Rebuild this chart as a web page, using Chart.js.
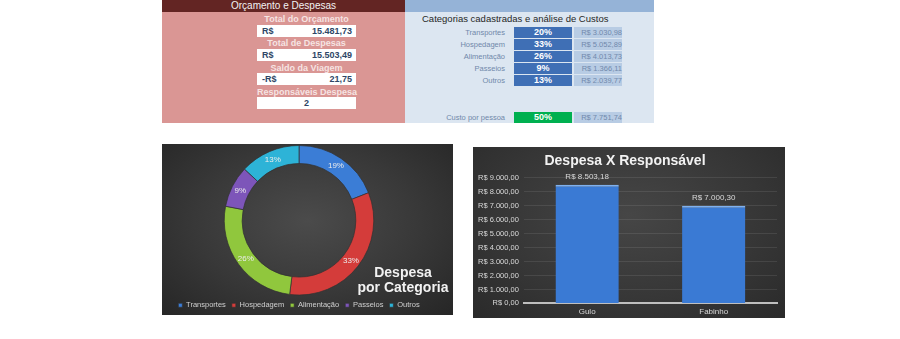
<!DOCTYPE html>
<html lang="pt-BR">
<head>
<meta charset="utf-8">
<title>Orçamento da Viagem</title>
<script src="https://cdn.jsdelivr.net/npm/chart.js@4.4.1/dist/chart.umd.min.js"></script>
<style>
  html, body { margin: 0; padding: 0; background: #fff; }
  body { width: 900px; height: 339px; position: relative; overflow: hidden; font-family: "Liberation Sans", Arial, sans-serif; }
  .painel { position: absolute; }

  #orcamento { left: 162px; top: 0; width: 243px; height: 123px; background: #da9694; }
  #orcamento .cab { height: 12px; background: #632523; color: #f2f2f2; font-size: 10px; line-height: 12px; text-align: center; }
  .rotulo { position: absolute; left: 95px; width: 99px; height: 12px; text-align: center; color: #f6e4e3; font-weight: bold; font-size: 9px; line-height: 12px; white-space: nowrap; }
  .valor { position: absolute; left: 95px; width: 99px; height: 12px; background: #fff; color: #2e4666; font-weight: bold; font-size: 9px; line-height: 12px; }
  .valor .moeda { position: absolute; left: 5px; }
  .valor .num { position: absolute; right: 4px; }
  .valor.centro { text-align: center; }

  #categorias { left: 405px; top: 0; width: 249px; height: 123px; background: #dce6f1; }
  #categorias .cab { height: 12px; background: #95b3d7; }
  #categorias .titulo { position: absolute; left: 17px; top: 12px; font-size: 9.5px; line-height: 13px; color: #262626; white-space: nowrap; }
  .linha { position: absolute; left: 0; width: 249px; height: 11px; font-size: 7.5px; line-height: 11px; }
  .linha .nome { position: absolute; left: 0; width: 100px; text-align: right; color: #7088aa; }
  .linha .perc { position: absolute; left: 109px; width: 58px; height: 11px; background: #3f6fb5; color: #fff; font-weight: bold; font-size: 9px; text-align: center; }
  .linha .perc.verde { background: #00b050; }
  .linha .custo { position: absolute; left: 169px; width: 48px; height: 11px; background: #b8cce4; color: #7189ac; text-align: right; }

  #pizza { left: 162px; top: 144px; width: 291px; height: 171px;
    background: radial-gradient(ellipse at 50% 45%, #4b4b4b 0%, #383838 55%, #262626 100%); }
  #barras { left: 473px; top: 147px; width: 312px; height: 171px;
    background: radial-gradient(ellipse at 50% 40%, #464646 0%, #363636 60%, #2a2a2a 100%); }
</style>
</head>
<body>

<div class="painel" id="orcamento">
  <div class="cab">Orçamento e Despesas</div>
  <div class="rotulo" style="top:13px">Total do Orçamento</div>
  <div class="valor" style="top:25px"><span class="moeda">R$</span><span class="num" id="vOrcamento"></span></div>
  <div class="rotulo" style="top:37px">Total de Despesas</div>
  <div class="valor" style="top:49px"><span class="moeda">R$</span><span class="num" id="vDespesas"></span></div>
  <div class="rotulo" style="top:62px">Saldo da Viagem</div>
  <div class="valor" style="top:73px"><span class="moeda" id="vSaldoMoeda">R$</span><span class="num" id="vSaldo"></span></div>
  <div class="rotulo" style="top:86px">Responsáveis Despesa</div>
  <div class="valor centro" style="top:97px" id="vResp"></div>
</div>

<div class="painel" id="categorias">
  <div class="cab"></div>
  <div class="titulo">Categorias cadastradas e análise de Custos</div>
</div>

<div class="painel" id="pizza"><canvas id="graficoPizza" width="291" height="171"></canvas></div>
<div class="painel" id="barras"><canvas id="graficoBarras" width="312" height="171"></canvas></div>

<script>
// dados da viagem
const categorias = ['Transportes', 'Hospedagem', 'Alimentação', 'Passeios', 'Outros'];
const custosCategoria = [3030.98, 5052.89, 4013.73, 1366.11, 2039.77];
const percTabela = [20, 33, 26, 9, 13];
const percGrafico = [19, 33, 26, 9, 13];
const coresCategoria = ['#3b7dd6', '#d43c3a', '#90c73d', '#7d55b9', '#2db3d7'];

const totalOrcamento = 15481.73;
const totalDespesas = 15503.49;
const saldoViagem = -21.75;
const custoPessoaPerc = 50;
const custoPessoa = 7751.74;

const responsaveis = ['Gulo', 'Fabinho'];
const despesaResponsavel = [8503.18, 7000.30];
const eixoMax = 9000;
const eixoPasso = 1000;

const fonte = '"Liberation Sans", Arial, sans-serif';

function fmt(v) {
    let partes = Math.abs(v).toFixed(2).split('.');
    return partes[0].replace(/\B(?=(\d{3})+(?!\d))/g, '.') + ',' + partes[1];
}

// tabela de resumo
document.getElementById('vOrcamento').textContent = fmt(totalOrcamento);
document.getElementById('vDespesas').textContent = fmt(totalDespesas);
document.getElementById('vSaldoMoeda').textContent = (saldoViagem < 0 ? '-' : '') + 'R$';
document.getElementById('vSaldo').textContent = fmt(saldoViagem);
document.getElementById('vResp').textContent = responsaveis.length;

// tabela de categorias
let painel = document.getElementById('categorias');
function addLinha(top, nome, perc, valor, verde) {
    let linha = document.createElement('div');
    linha.className = 'linha';
    linha.style.top = top + 'px';
    linha.innerHTML = '<span class="nome">' + nome + '</span>' +
        '<span class="perc' + (verde ? ' verde' : '') + '">' + perc + '%</span>' +
        '<span class="custo">R$ ' + fmt(valor) + '</span>';
    painel.appendChild(linha);
}
categorias.forEach(function (c, i) {
    addLinha(27 + i * 12, c, percTabela[i], custosCategoria[i], false);
});
addLinha(112, 'Custo por pessoa', custoPessoaPerc, custoPessoa, true);

// rótulos de porcentagem nas fatias
const rotulosPizza = {
    id: 'rotulosPizza',
    afterDatasetsDraw: function (chart) {
        let ctx = chart.ctx;
        let meta = chart.getDatasetMeta(0);
        ctx.save();
        ctx.font = '8px ' + fonte;
        ctx.fillStyle = '#ececec';
        ctx.textAlign = 'center';
        ctx.textBaseline = 'middle';
        meta.data.forEach(function (arc, i) {
            let p = arc.tooltipPosition();
            ctx.fillText(chart.data.datasets[0].data[i] + '%', p.x, p.y);
        });
        ctx.restore();
    }
};

// título em duas linhas no canto inferior direito
const tituloPizza = {
    id: 'tituloPizza',
    afterDraw: function (chart) {
        let ctx = chart.ctx;
        ctx.save();
        ctx.font = 'bold 14px ' + fonte;
        ctx.fillStyle = '#f2f2f2';
        ctx.textAlign = 'center';
        ctx.textBaseline = 'middle';
        ctx.fillText('Despesa', 241, 129);
        ctx.fillText('por Categoria', 241, 144);
        ctx.restore();
    }
};

new Chart(document.getElementById('graficoPizza'), {
    type: 'doughnut',
    data: {
        labels: categorias,
        datasets: [{
            data: percGrafico,
            backgroundColor: coresCategoria,
            borderColor: 'rgba(50, 50, 50, 0.7)',
            borderWidth: 1
        }]
    },
    options: {
        responsive: false,
        devicePixelRatio: 1,
        animation: false,
        cutout: '76%',
        layout: { padding: { top: 1, right: 17, bottom: -4 } },
        plugins: {
            legend: {
                position: 'bottom',
                labels: {
                    boxWidth: 4,
                    boxHeight: 4,
                    padding: 6,
                    color: '#cfcfcf',
                    font: { size: 7.5, family: fonte }
                }
            },
            tooltip: { enabled: false }
        }
    },
    plugins: [rotulosPizza, tituloPizza]
});

// valor acima de cada barra
const rotulosBarras = {
    id: 'rotulosBarras',
    afterDatasetsDraw: function (chart) {
        let ctx = chart.ctx;
        let meta = chart.getDatasetMeta(0);
        ctx.save();
        ctx.font = '8px ' + fonte;
        ctx.fillStyle = '#d9d9d9';
        ctx.textAlign = 'center';
        ctx.textBaseline = 'bottom';
        meta.data.forEach(function (bar, i) {
            ctx.fillText('R$ ' + fmt(chart.data.datasets[0].data[i]), bar.x, bar.y - 4);
        });
        ctx.restore();
    }
};

new Chart(document.getElementById('graficoBarras'), {
    type: 'bar',
    data: {
        labels: responsaveis,
        datasets: [{
            data: despesaResponsavel,
            backgroundColor: '#3a7ad4',
            borderColor: '#7fb1ef',
            borderWidth: { top: 2, left: 0, right: 0, bottom: 0 },
            barPercentage: 0.5,
            categoryPercentage: 1
        }]
    },
    options: {
        responsive: false,
        devicePixelRatio: 1,
        animation: false,
        layout: { padding: { left: 0, right: 8, bottom: -3 } },
        scales: {
            y: {
                min: 0,
                max: eixoMax,
                ticks: {
                    stepSize: eixoPasso,
                    autoSkip: false,
                    color: '#d9d9d9',
                    padding: 5,
                    font: { size: 7.5, family: fonte },
                    callback: function (v) { return 'R$ ' + fmt(v); }
                },
                grid: { color: 'rgba(255, 255, 255, 0.09)', drawTicks: false },
                border: { display: false }
            },
            x: {
                ticks: { color: '#d9d9d9', padding: 4, font: { size: 8, family: fonte } },
                grid: { display: false, drawTicks: false },
                border: { color: '#bfbfbf', width: 2 }
            }
        },
        plugins: {
            legend: { display: false },
            tooltip: { enabled: false },
            title: {
                display: true,
                text: 'Despesa X Responsável',
                color: '#f2f2f2',
                font: { size: 14, weight: 'bold', family: fonte },
                padding: { top: 6, bottom: 8 }
            }
        }
    },
    plugins: [rotulosBarras]
});
</script>
</body>
</html>
